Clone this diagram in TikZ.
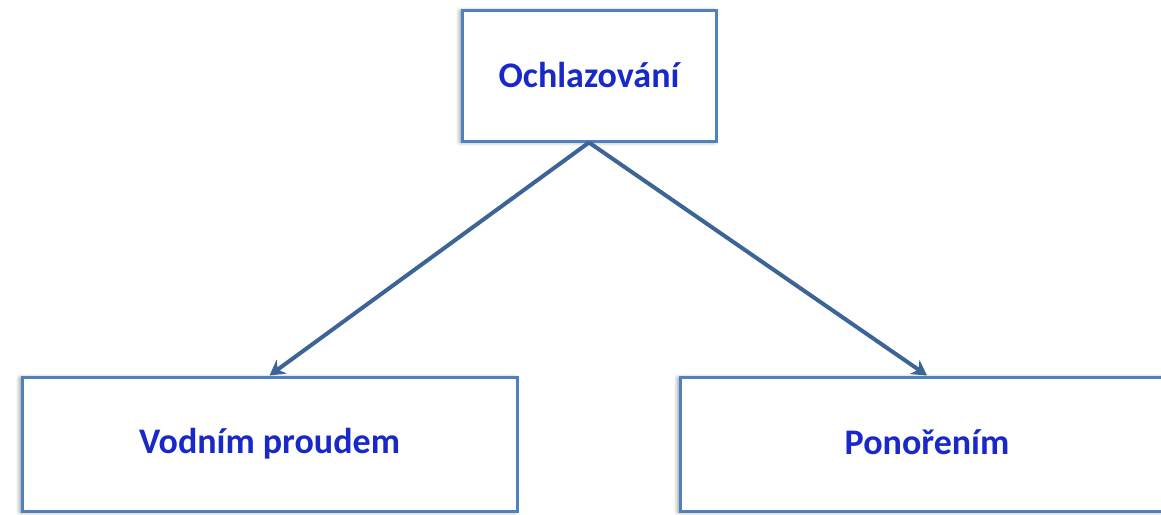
\documentclass[tikz,border=0pt]{standalone}
\usepackage{fontspec}
\setmainfont{Carlito}
\usetikzlibrary{arrows.meta,shadows.blur}
\definecolor{boxborder}{RGB}{79,129,189}
\definecolor{arrowcol}{RGB}{60,100,150}
\definecolor{textblue}{RGB}{25,40,200}
\begin{document}
\begin{tikzpicture}[x=1pt,y=-1pt,
  box/.style={draw=boxborder, line width=3pt, fill=white, inner sep=0pt,
    font=\fontsize{36}{42}\selectfont\bfseries, text=textblue,
    blur shadow={shadow xshift=-2pt, shadow yshift=-1pt, shadow blur radius=4pt, shadow opacity=45}},
  conn/.style={draw=arrowcol, line width=4pt, -{Stealth[length=15pt,width=17pt]}}]
\useasboundingbox (0,0) rectangle (1161,514);
\node[box, minimum width=254pt, minimum height=131pt] (top) at (589,75.5) {Ochlazování};
\node[box, minimum width=495pt, minimum height=134pt] (left) at (269.5,444) {\raisebox{2pt}{Vodním proudem}};
\node[box, minimum width=494pt, minimum height=134pt] (right) at (927,444) {\raisebox{3pt}{Ponořením}};
\draw[conn] (top.south) -- (left.north);
\draw[conn] (top.south) -- (right.north);
\end{tikzpicture}
\end{document}
